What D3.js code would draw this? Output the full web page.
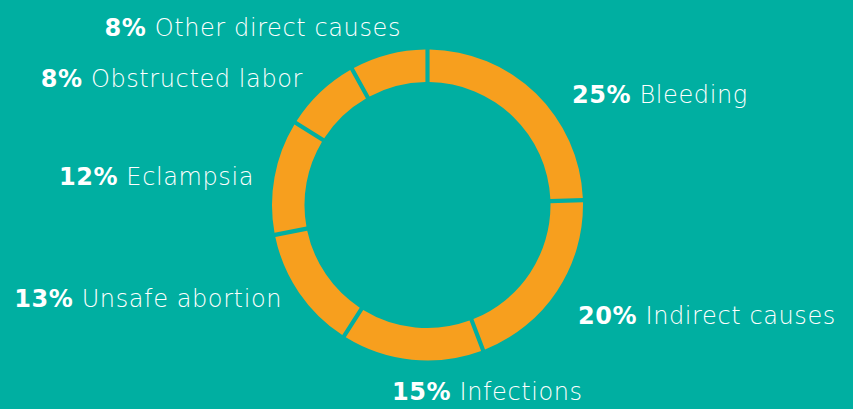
<!DOCTYPE html>
<html>
<head>
<meta charset="utf-8">
<script src="https://cdn.jsdelivr.net/npm/d3@7"></script>
<style>
  html, body { margin: 0; padding: 0; background: #00AFA1; }
  svg { display: block; }
  .lbl { font-family: "DejaVu Sans", sans-serif; font-size: 24px; fill: #fff; letter-spacing: 0.6px; }
  .pct { font-weight: 700; }
  .name { font-weight: 200; }
</style>
</head>
<body>
<svg width="853" height="409"></svg>
<script>
// causes, clockwise from the top
var causes = ["Bleeding", "Indirect causes", "Infections", "Unsafe abortion", "Eclampsia", "Obstructed labor", "Other direct causes"];
var shares = [25, 20, 15, 13, 12, 8, 8];

// where each label sits (anchor x, baseline y, side)
var labelPos = [
	{x: 572, y: 103, anchor: "start"},
	{x: 578, y: 324, anchor: "start"},
	{x: 392, y: 400, anchor: "start"},
	{x: 282, y: 307, anchor: "end"},
	{x: 254, y: 185, anchor: "end"},
	{x: 303, y: 87, anchor: "end"},
	{x: 401, y: 36, anchor: "end"}
];

var svg = d3.select("svg"),
	cx = 427.5,
	cy = 205,
	outer = 155.5,
	inner = 123;

var data = causes.map(function(c, i) { return {name: c, value: shares[i]}; });

var pie = d3.pie()
	.sort(null)
	.value(function(d) { return d.value; })
	.padAngle(0.021);

var arc = d3.arc()
	.innerRadius(inner)
	.outerRadius(outer);

var g = svg.append("g").attr("transform", "translate(" + cx + "," + cy + ")");

g.selectAll("path")
	.data(pie(data))
	.enter().append("path")
	.attr("fill", "#F79F1E")
	.attr("d", arc);

var txt = svg.selectAll("text.lbl")
	.data(data)
	.enter().append("text")
	.attr("class", "lbl")
	.attr("x", function(d, i) { return labelPos[i].x; })
	.attr("y", function(d, i) { return labelPos[i].y; })
	.attr("text-anchor", function(d, i) { return labelPos[i].anchor; });

txt.append("tspan").attr("class", "pct").text(function(d) { return d.value + "%"; });
txt.append("tspan").attr("class", "name").text(function(d) { return " " + d.name; });
</script>
</body>
</html>
